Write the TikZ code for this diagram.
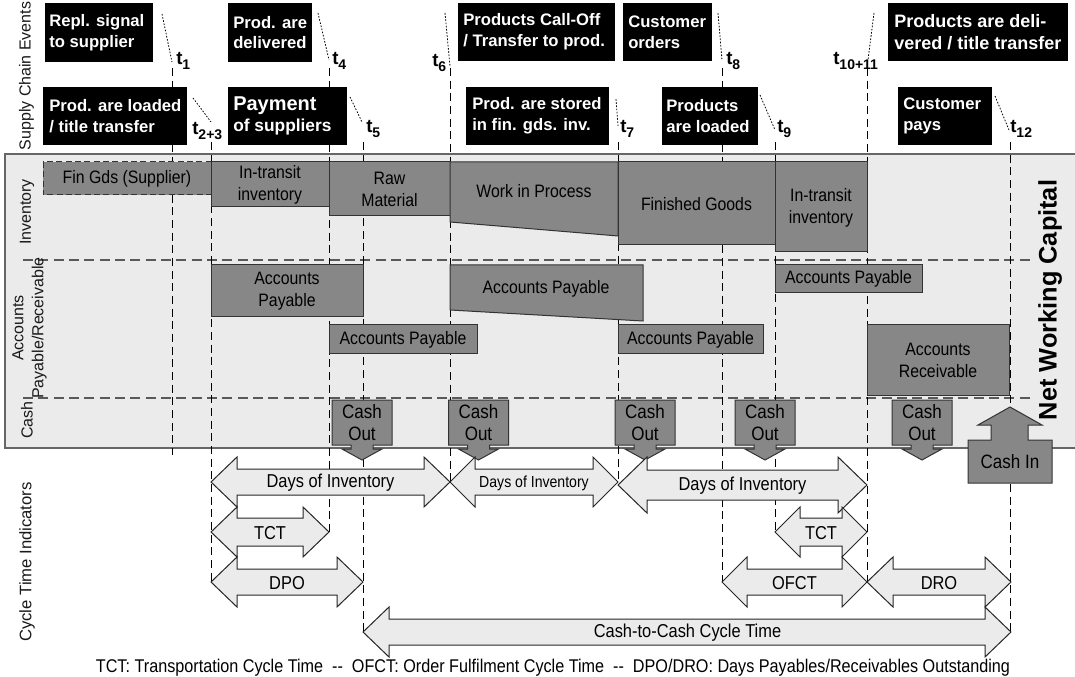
\documentclass[tikz,border=0pt]{standalone}
\usepackage{fontspec}
\setmainfont{Liberation Sans}
\newfontfamily\narrowsans{Liberation Sans}[FakeStretch=0.88]
\definecolor{bandgray}{HTML}{EBEBEB}
\definecolor{stockgray}{HTML}{878787}
% subscript of a time mark
\newcommand\tsub[1]{\raisebox{-3.5pt}{\fontsize{10.5}{10.5}\selectfont #1}}
% double-headed block arrow: x1, x2, y centre, head length, head half height, shaft half height
\newcommand\cyclearrow[6]{%
  \draw[cyc] (#1,#3) -- ({#1+#4},{#3-#5}) -- ({#1+#4},{#3-#6}) -- ({#2-#4},{#3-#6})
    -- ({#2-#4},{#3-#5}) -- (#2,#3) -- ({#2-#4},{#3+#5}) -- ({#2-#4},{#3+#6})
    -- ({#1+#4},{#3+#6}) -- ({#1+#4},{#3+#5}) -- cycle;}
% cash-out callout: node name, centre x
\newcommand\cashout[2]{%
  \draw[stock] ({#2-30},400) -- ({#2+30},400) -- ({#2+30},445) -- ({#2+11},445)
    -- ({#2+11},449) -- ({#2+20},449) -- (#2,460) -- ({#2-20},449) -- ({#2-11},449)
    -- ({#2-11},445) -- ({#2-30},445) -- cycle;
  \node[stocktext,font=\narrowsans\fontsize{14.5}{17}\selectfont] (#1) at (#2,422.5) {Cash\\Out};}
\begin{document}
\begin{tikzpicture}[x=0.75pt,y=-0.75pt,
  evtbox/.style={fill=black},
  evttext/.style={text=white,font=\fontsize{12.5}{15.5}\selectfont\bfseries,align=left,anchor=west,inner sep=0pt},
  tlabel/.style={font=\fontsize{14}{14}\selectfont\bfseries,anchor=base west,inner sep=0pt},
  tline/.style={black,line width=0.75pt,dash pattern=on 6pt off 3.5pt},
  tslant/.style={black,line width=0.6pt,dash pattern=on 1.2pt off 1.2pt},
  rowsep/.style={draw=black!65,line width=1.5pt,dash pattern=on 7.5pt off 4pt},
  stock/.style={fill=stockgray,draw=black!80,line width=0.75pt},
  stocktext/.style={font=\narrowsans\fontsize{13.5}{16.5}\selectfont,align=center,inner sep=0pt},
  cyc/.style={fill=bandgray,draw=black!85,line width=0.75pt},
  cyctext/.style={font=\narrowsans\fontsize{14}{15}\selectfont,inner sep=0pt},
  rowlabel/.style={rotate=90,font=\fontsize{12}{15}\selectfont,align=center,inner sep=0pt,text=black!90},
]
\useasboundingbox (0,0) rectangle (1075,677);

% working-capital band
\fill[bandgray] (5,154) rectangle (1075,448);
\draw[black!60,line width=1.2pt] (1075,154) -- (5,154) -- (5,448) -- (1075,448);

% row separators
\draw[rowsep] (23,260) -- (1030,260);
\draw[rowsep] (23,398) -- (1030,398);

% time marks
\foreach \x/\ya/\yb in {172/68/455, 211/142/582, 329/68/532, 363/142/632, 450/68/482,
    618/142/482, 722/68/582, 775/142/532, 867/68/582, 1010/142/632}
  \draw[tline] (\x,\ya) -- (\x,\yb);
\foreach \ax/\ay/\bx/\by in {162/14/172/62, 193/98/211/122, 318/13/329/60, 350/97/362/122,
    445/13/450/66, 616/99/618/126, 718/13/722/60, 760/95/775/130, 874/13/868/60, 995/96/1009/130}
  \draw[tslant] (\ax,\ay) -- (\bx,\by);

% supply chain events
\fill[evtbox] (45,3) rectangle (153,62);
\node[evttext] (e1) at (49,32.5) {Repl. signal\\to supplier};
\fill[evtbox] (43,87) rectangle (187,145);
\node[evttext] (e2) at (49,116) {Prod. are loaded\\/ title transfer};
\fill[evtbox] (228,3) rectangle (312,62);
\node[evttext] (e3) at (233,32.5) {Prod. are\\delivered};
\fill[evtbox] (228,87) rectangle (347,145);
\node[evttext] (e4) at (233,116) {{\fontsize{15}{17}\selectfont Payment}\\{\fontsize{13}{16}\selectfont of suppliers}};
\fill[evtbox] (458,3) rectangle (615,61);
\node[evttext] (e5) at (463,32) {Products Call-Off\\/ Transfer to prod.};
\fill[evtbox] (623,3) rectangle (712,61);
\node[evttext] (e6) at (628,32) {Customer\\orders};
\fill[evtbox] (466,87) rectangle (609,145);
\node[evttext] (e7) at (472,116) {Prod. are stored\\in fin. gds. inv.};
\fill[evtbox] (662,87) rectangle (758,145);
\node[evttext] (e8) at (666,116) {Products\\are loaded};
\fill[evtbox] (888,3) rectangle (1068,61);
\node[evttext,font=\fontsize{13.5}{17}\selectfont\bfseries] (e9) at (894,32) {Products are deli-\\vered / title transfer};
\fill[evtbox] (898,87) rectangle (992,145);
\node[evttext] (e10) at (903,116) {Customer\\pays};

% time mark labels
\node[tlabel] (l1) at (176,65) {t\tsub{1}};
\node[tlabel] (l23) at (192,135) {t\tsub{2+3}};
\node[tlabel] (l4) at (332,65) {t\tsub{4}};
\node[tlabel] (l5) at (366,133) {t\tsub{5}};
\node[tlabel] (l6) at (432,67) {t\tsub{6}};
\node[tlabel] (l7) at (620,133) {t\tsub{7}};
\node[tlabel] (l8) at (726,65) {t\tsub{8}};
\node[tlabel] (l9) at (777,133) {t\tsub{9}};
\node[tlabel] (l1011) at (833,65) {t\tsub{10+11}};
\node[tlabel] (l12) at (1010,133) {t\tsub{12}};

% inventory
\draw[stock,dash pattern=on 4.5pt off 2.5pt] (43,162) rectangle (211,195);
\node[stocktext] (fgs) at (127,178.5) {Fin Gds (Supplier)};
\draw[stock] (211,162) rectangle (329,207);
\node[stocktext] (it1) at (270,185) {In-transit\\inventory};
\draw[stock] (329,162) rectangle (450,216);
\node[stocktext] (rm) at (389.5,189) {Raw\\Material};
\draw[stock] (450,162) -- (618,162) -- (618,236) -- (450,222) -- cycle;
\node[stocktext] (wip) at (534,191) {Work in Process};
\draw[stock] (618,162) rectangle (775,245);
\node[stocktext] (fg) at (696.5,204) {Finished Goods};
\draw[stock] (775,162) rectangle (867,252);
\node[stocktext] (it2) at (821,208) {In-transit\\inventory};

% payables / receivables
\draw[stock] (211,265) rectangle (363,317);
\node[stocktext] (ap1) at (287,291) {Accounts\\Payable};
\draw[stock] (329,325) rectangle (477,354);
\node[stocktext] (ap2) at (403,339.5) {Accounts Payable};
\draw[stock] (450,265) -- (643,265) -- (643,321) -- (450,310) -- cycle;
\node[stocktext] (ap3) at (546,289) {Accounts Payable};
\draw[stock] (618,325) rectangle (763,354);
\node[stocktext] (ap4) at (690.5,339.5) {Accounts Payable};
\draw[stock] (775,265) rectangle (922,293);
\node[stocktext] (ap5) at (848.5,279) {Accounts Payable};
\draw[stock] (867,325) rectangle (1009,395);
\node[stocktext] (ar) at (938,360) {Accounts\\Receivable};

% cash flows
\cashout{co1}{362}
\cashout{co2}{478.5}
\cashout{co3}{645}
\cashout{co4}{765}
\cashout{co5}{922}
\draw[stock] (1010,407) -- (1042,425) -- (1028,425) -- (1028,440) -- (1052,440) -- (1052,483)
  -- (968,483) -- (968,440) -- (991,440) -- (991,425) -- (978,425) -- cycle;
\node[stocktext,font=\narrowsans\fontsize{14.5}{17}\selectfont] (ci) at (1010,462) {Cash In};

% cycle time indicators
\cyclearrow{211}{450}{482}{26}{25}{13}
\node[cyctext] (doi1) at (330.5,483) {Days of Inventory};
\cyclearrow{450}{618}{482}{25}{25}{13}
\node[cyctext,font=\narrowsans\fontsize{12}{13}\selectfont] (doi2) at (534,483) {Days of Inventory};
\cyclearrow{618}{867}{485}{29}{28}{15}
\node[cyctext] (doi3) at (742.5,486) {Days of Inventory};
\cyclearrow{211}{329}{532}{26}{25}{14}
\node[cyctext] (tct1) at (270,533) {TCT};
\cyclearrow{211}{363}{582}{26}{25}{13}
\node[cyctext] (dpo) at (287,583) {DPO};
\cyclearrow{775}{867}{532}{25}{25}{14}
\node[cyctext] (tct2) at (821,533) {TCT};
\cyclearrow{722}{867}{582}{25}{25}{13}
\node[cyctext] (ofct) at (794.5,583) {OFCT};
\cyclearrow{867}{1011}{582}{26}{25}{13}
\node[cyctext] (dro) at (939,583) {DRO};
\cyclearrow{363}{1011}{632}{26}{25}{13}
\node[cyctext] (c2c) at (687.5,633) {Cash-to-Cash Cycle Time};

% row headings
\node[rowlabel] (rsce) at (26.5,76) {Supply Chain Events};
\node[rowlabel] (rinv) at (27,212) {Inventory};
\node[rowlabel] (rap) at (29.5,328) {Accounts\\Payable/Receivable};
\node[rowlabel] (rcash) at (27,420) {Cash};
\node[rowlabel,font=\fontsize{12.5}{15}\selectfont] (rcti) at (27,562) {Cycle Time Indicators};
\node[rotate=90,font=\fontsize{19}{19}\selectfont\bfseries,inner sep=0pt] (nwc) at (1050,300) {Net Working Capital};

% legend
\node[font=\narrowsans\fontsize{13.8}{15}\selectfont,inner sep=0pt] (note) at (553,668)
  {TCT: Transportation Cycle Time \ -{}- \ OFCT: Order Fulfilment Cycle Time \ -{}- \ DPO/DRO: Days Payables/Receivables Outstanding};
\end{tikzpicture}
\end{document}
